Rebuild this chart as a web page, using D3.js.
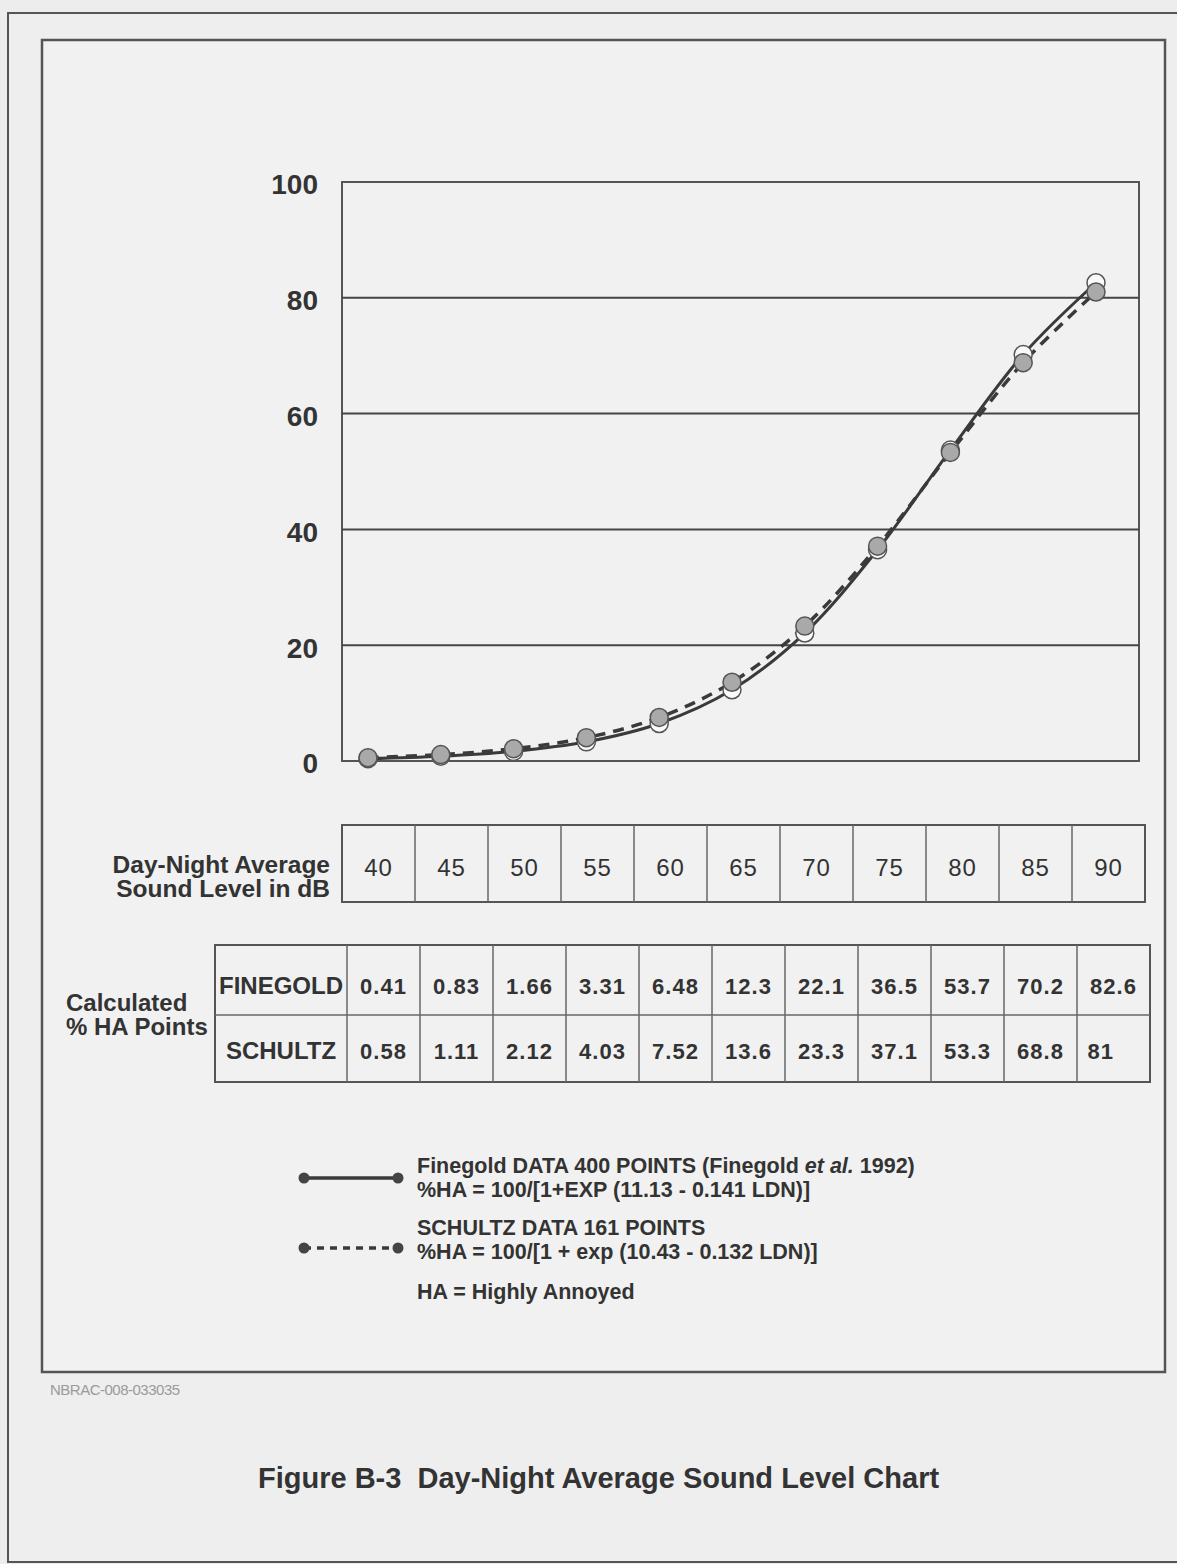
<!DOCTYPE html>
<html>
<head>
<meta charset="utf-8">
<script src="https://cdn.jsdelivr.net/npm/d3@7.9.0/dist/d3.min.js"></script>
<style>
  html, body { margin: 0; padding: 0; background: #ededed; }
  svg { display: block; font-family: "Liberation Sans", Arial, sans-serif; }
</style>
</head>
<body>
<svg id="chart" width="1177" height="1564"></svg>
<script>
// sound levels (dB) and calculated % highly annoyed
const levels = [40, 45, 50, 55, 60, 65, 70, 75, 80, 85, 90];
const finegold = [0.41, 0.83, 1.66, 3.31, 6.48, 12.3, 22.1, 36.5, 53.7, 70.2, 82.6];
const schultz = [0.58, 1.11, 2.12, 4.03, 7.52, 13.6, 23.3, 37.1, 53.3, 68.8, 81];
const yTicks = [0, 20, 40, 60, 80, 100];
const legendLines = [
    ["Finegold DATA 400 POINTS (Finegold ", "et al.", " 1992)"],
    ["%HA = 100/[1+EXP (11.13 - 0.141 LDN)]"],
    ["SCHULTZ DATA 161 POINTS"],
    ["%HA = 100/[1 + exp (10.43 - 0.132 LDN)]"],
    ["HA = Highly Annoyed"]
];

const ink = "#333";
const lineInk = "#3a3a3a";
const svg = d3.select("#chart");

// page frames
svg.append("rect").attr("x", 8).attr("y", 13).attr("width", 1190).attr("height", 1549)
    .attr("fill", "#eeeeee").attr("stroke", "#555").attr("stroke-width", 2);
svg.append("rect").attr("x", 42).attr("y", 40).attr("width", 1123).attr("height", 1332)
    .attr("fill", "#f1f1f1").attr("stroke", "#555").attr("stroke-width", 2.5);

// plot area
const plot = { left: 342, right: 1139, top: 182, bottom: 761 };
const x = d3.scaleLinear().domain([40, 90]).range([368, 1096]);
const y = d3.scaleLinear().domain([0, 100]).range([plot.bottom, plot.top]);

svg.append("rect")
    .attr("x", plot.left).attr("y", plot.top)
    .attr("width", plot.right - plot.left).attr("height", plot.bottom - plot.top)
    .attr("fill", "none").attr("stroke", "#555").attr("stroke-width", 2);

svg.append("g").selectAll("line")
    .data(yTicks.filter(d => d > 0 && d < 100))
    .join("line")
    .attr("x1", plot.left).attr("x2", plot.right)
    .attr("y1", d => y(d)).attr("y2", d => y(d))
    .attr("stroke", "#444").attr("stroke-width", 2);

svg.append("g").selectAll("text")
    .data(yTicks)
    .join("text")
    .attr("x", 318).attr("y", d => y(d) + 5)
    .attr("text-anchor", "end").attr("dominant-baseline", "middle")
    .attr("font-size", 28).attr("font-weight", "bold").attr("fill", ink)
    .text(d => d);

const line = d3.line()
    .x((d, i) => x(levels[i]))
    .y(d => y(d))
    .curve(d3.curveCatmullRom);

svg.append("path").datum(finegold).attr("d", line)
    .attr("fill", "none").attr("stroke", lineInk).attr("stroke-width", 3);
svg.append("path").datum(schultz).attr("d", line)
    .attr("fill", "none").attr("stroke", lineInk).attr("stroke-width", 3.5)
    .attr("stroke-dasharray", "11,8");

svg.append("g").selectAll("circle")
    .data(finegold)
    .join("circle")
    .attr("cx", (d, i) => x(levels[i])).attr("cy", d => y(d)).attr("r", 9)
    .attr("fill", "#fafafa").attr("stroke", "#555").attr("stroke-width", 1.5);
svg.append("g").selectAll("circle")
    .data(schultz)
    .join("circle")
    .attr("cx", (d, i) => x(levels[i])).attr("cy", d => y(d)).attr("r", 9)
    .attr("fill", "#a9a9a9").attr("stroke", "#555").attr("stroke-width", 1.5);

// sound level table
const t1 = { top: 825, bottom: 902 };
const col1 = d3.scaleBand().domain(levels).range([342, 1145]);
svg.append("rect").attr("x", 342).attr("y", t1.top).attr("width", 1145 - 342)
    .attr("height", t1.bottom - t1.top).attr("fill", "none").attr("stroke", "#555").attr("stroke-width", 2);
svg.append("g").selectAll("line")
    .data(levels.slice(1))
    .join("line")
    .attr("x1", d => col1(d)).attr("x2", d => col1(d))
    .attr("y1", t1.top).attr("y2", t1.bottom)
    .attr("stroke", "#666").attr("stroke-width", 1.5);
svg.append("g").selectAll("text")
    .data(levels)
    .join("text")
    .attr("x", d => col1(d) + col1.bandwidth() / 2).attr("y", 876)
    .attr("text-anchor", "middle")
    .attr("font-size", 24).attr("fill", ink).attr("letter-spacing", 1)
    .text(d => d);
svg.append("text").attr("x", 330).attr("y", 873).attr("text-anchor", "end")
    .attr("font-size", 24.5).attr("font-weight", "bold").attr("fill", ink).text("Day-Night Average");
svg.append("text").attr("x", 330).attr("y", 897).attr("text-anchor", "end")
    .attr("font-size", 24.5).attr("font-weight", "bold").attr("fill", ink).text("Sound Level in dB");

// calculated %HA table
const t2 = { top: 945, mid: 1015, bottom: 1082 };
const col2 = d3.scaleBand().domain(levels).range([347, 1150]);
svg.append("rect").attr("x", 215).attr("y", t2.top).attr("width", 1150 - 215)
    .attr("height", t2.bottom - t2.top).attr("fill", "none").attr("stroke", "#555").attr("stroke-width", 2);
svg.append("line").attr("x1", 215).attr("x2", 1150).attr("y1", t2.mid).attr("y2", t2.mid)
    .attr("stroke", "#666").attr("stroke-width", 1.5);
svg.append("g").selectAll("line")
    .data(levels)
    .join("line")
    .attr("x1", d => col2(d)).attr("x2", d => col2(d))
    .attr("y1", t2.top).attr("y2", t2.bottom)
    .attr("stroke", "#666").attr("stroke-width", 1.5);

const rows = [
    { name: "FINEGOLD", values: finegold, y: 994 },
    { name: "SCHULTZ", values: schultz, y: 1059 }
];
rows.forEach(r => {
    svg.append("text").attr("x", 281).attr("y", r.y).attr("text-anchor", "middle")
        .attr("font-size", 24).attr("font-weight", "bold").attr("fill", ink).text(r.name);
    svg.append("g").selectAll("text")
        .data(r.values)
        .join("text")
        .attr("x", (d, i) => col2(levels[i]) + col2.bandwidth() / 2).attr("y", r.y)
        .attr("text-anchor", (d, i) => i === levels.length - 1 && r.name === "SCHULTZ" ? "start" : "middle")
        .attr("dx", (d, i) => i === levels.length - 1 && r.name === "SCHULTZ" ? -26 : 0)
        .attr("font-size", 22).attr("font-weight", "bold").attr("fill", ink).attr("letter-spacing", 1)
        .text(d => d);
});
svg.append("text").attr("x", 66).attr("y", 1011)
    .attr("font-size", 24).attr("font-weight", "bold").attr("fill", ink).text("Calculated");
svg.append("text").attr("x", 66).attr("y", 1035)
    .attr("font-size", 24).attr("font-weight", "bold").attr("fill", ink).text("% HA Points");

// legend
const legendRows = [
    { y: 1178, dash: null },
    { y: 1248, dash: "7,6" }
];
legendRows.forEach(l => {
    svg.append("line").attr("x1", 304).attr("x2", 398).attr("y1", l.y).attr("y2", l.y)
        .attr("stroke", lineInk).attr("stroke-width", 3.5)
        .attr("stroke-dasharray", l.dash);
    svg.append("g").selectAll("circle")
        .data([304, 398])
        .join("circle")
        .attr("cx", d => d).attr("cy", l.y).attr("r", 5.5).attr("fill", "#444");
});
const legendY = [1173, 1197, 1235, 1259, 1299];
legendLines.forEach((parts, i) => {
    const t = svg.append("text").attr("x", 417).attr("y", legendY[i])
        .attr("font-size", 21.5).attr("font-weight", "bold").attr("fill", ink);
    parts.forEach((p, j) => {
        t.append("tspan").attr("font-style", parts.length > 1 && j === 1 ? "italic" : null).text(p);
    });
});

// id and caption
svg.append("text").attr("x", 50).attr("y", 1395)
    .attr("font-size", 15).attr("fill", "#9a9a9a").attr("letter-spacing", -0.5).text("NBRAC-008-033035");
svg.append("text").attr("x", 258).attr("y", 1488)
    .attr("font-size", 29).attr("font-weight", "bold").attr("fill", ink).attr("xml:space", "preserve")
    .text("Figure B-3  Day-Night Average Sound Level Chart");
</script>
</body>
</html>
